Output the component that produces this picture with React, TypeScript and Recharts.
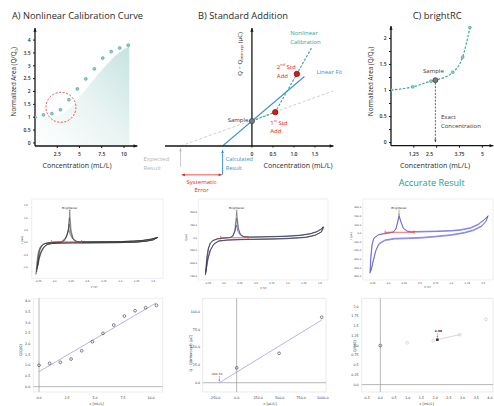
import React from 'react';
import {
  ComposedChart,
  Line,
  Area,
  XAxis,
  YAxis,
  ReferenceLine,
  ReferenceDot,
  ReferenceArea,
} from 'recharts';

const W = 494;
const H = 406;
const SANS = '"Open Sans", "Noto Sans", sans-serif';
const MPL = '"DejaVu Sans", sans-serif';
const INK = '#151515';
const TEAL = '#37a197';
const BLUE = '#3590d6';
const RED = '#e3241b';

// calibration standards (A and bottom-left fit)
const calibConc = [0, 0.95, 1.9, 2.86, 3.81, 4.76, 5.71, 6.67, 7.62, 8.57, 9.52, 10.48];
const calibArea = [1.0, 1.09, 1.14, 1.29, 1.68, 2.1, 2.49, 2.88, 3.3, 3.55, 3.69, 3.8];
const shadeConc = [0, 1, 2, 3, 4, 5, 6, 7, 8, 9, 10, 10.6];
const shadeArea = [1.0, 1.0, 1.03, 1.12, 1.38, 1.78, 2.2, 2.62, 3.02, 3.38, 3.64, 3.75];
const calibTicksX = [2.5, 5, 7.5, 10];
const calibTicksY = [0, 0.5, 1, 1.5, 2, 2.5, 3, 3.5, 4];

// standard addition sketch (B)
const addConc = [0, 0.555, 1.07];
const addSignal = [0.95, 1.29, 2.75];
const nonlinConc = [0, 0.555, 1.07, 1.43];
const nonlinSignal = [0.95, 1.29, 2.75, 3.77];
const linFitConc = [-0.7, 1.25];
const linFitSignal = [0, 2.65];
const trueConc = [-1.7, 1.94];
const trueSignal = [0, 2.1];
const expectedResult = -1.7;
const calculatedResult = -0.7;
const addTicksX = [0, 0.5, 1, 1.5];

// brightRC sketch (C)
const rcConc = [0, 1.19, 2.19, 3.38, 3.92, 4.32];
const rcArea = [1.01, 1.07, 1.18, 1.35, 1.64, 2.21];
const rcSampleConc = 2.43;
const rcSampleArea = 1.2;
const rcTicksX = [1.25, 2.5, 3.75, 5];
const rcTicksY = [0, 0.25, 0.5, 0.75, 1, 1.25, 1.5, 1.75, 2];

// CV, left (mA): several cycles
const dHead1 = [[-0.285, -1.3], [-0.27, -0.75], [-0.25, -0.4], [-0.22, -0.18], [-0.17, -0.07], [-0.1, -0.025], [0, -0.005], [0.1, 0.01]];
const dHead2 = [[-0.275, -1.2], [-0.26, -0.68], [-0.24, -0.36], [-0.21, -0.16], [-0.16, -0.06], [-0.1, -0.02], [0, 0], [0.1, 0.01]];
const dHead3 = [[-0.265, -1.08], [-0.25, -0.6], [-0.23, -0.32], [-0.2, -0.14], [-0.15, -0.05], [-0.08, -0.015], [0, 0], [0.1, 0.01]];
const dHead4 = [[-0.255, -0.95], [-0.24, -0.52], [-0.22, -0.28], [-0.19, -0.12], [-0.14, -0.04], [-0.07, -0.01], [0, 0], [0.1, 0.01]];
const dPeak1 = [[0.14, 0.05], [0.18, 0.2], [0.21, 0.55], [0.23, 1.25], [0.25, 0.5], [0.28, 0.16], [0.32, 0.05], [0.36, 0.02]];
const dPeak2 = [[0.14, 0.05], [0.18, 0.22], [0.21, 0.5], [0.225, 1.0], [0.245, 0.45], [0.28, 0.15], [0.32, 0.05], [0.36, 0.02]];
const dPeak3 = [[0.13, 0.06], [0.17, 0.2], [0.2, 0.42], [0.22, 0.75], [0.24, 0.4], [0.27, 0.18], [0.31, 0.06], [0.36, 0.02]];
const dPeak4 = [[0.12, 0.06], [0.16, 0.17], [0.19, 0.32], [0.215, 0.5], [0.235, 0.32], [0.27, 0.15], [0.31, 0.05], [0.36, 0.02]];
const dPlateau = [[0.5, 0.02], [0.75, 0.025], [1.0, 0.03], [1.2, 0.05], [1.35, 0.08], [1.47, 0.13], [1.57, 0.2], [1.5, 0.1], [1.4, 0.05], [1.25, 0.01], [1.0, -0.01], [0.75, -0.015], [0.5, -0.02], [0.25, -0.02], [0.05, -0.03], [-0.05, -0.05]];
const dTail1 = [[-0.12, -0.1], [-0.18, -0.22], [-0.23, -0.5], [-0.26, -0.85], [-0.285, -1.3]];
const dTail2 = [[-0.12, -0.09], [-0.17, -0.2], [-0.22, -0.46], [-0.25, -0.78], [-0.275, -1.2]];
const dTail3 = [[-0.11, -0.08], [-0.16, -0.18], [-0.21, -0.42], [-0.24, -0.7], [-0.265, -1.08]];
const dTail4 = [[-0.1, -0.07], [-0.15, -0.16], [-0.2, -0.38], [-0.23, -0.62], [-0.255, -0.95]];
const dBase = [[-0.05, 0.02], [0.41, 0.02]];
const dPeakAt = [0.23, 1.25];
const cvTicksV = [-0.25, 0, 0.25, 0.5, 0.75, 1, 1.25, 1.5];
const dTicksI = [-1, -0.5, 0, 0.5, 1, 1.5];

// CV, middle (uA)
const eHead1 = [[-0.29, -730], [-0.28, -560], [-0.27, -400], [-0.25, -230], [-0.22, -120], [-0.18, -60], [-0.1, -25], [0, -8], [0.1, 5]];
const eHead2 = [[-0.285, -700], [-0.275, -540], [-0.262, -380], [-0.243, -215], [-0.213, -110], [-0.17, -55], [-0.1, -22], [0, -6], [0.1, 5]];
const eHeadBlue = [[-0.28, -660], [-0.27, -500], [-0.257, -350], [-0.238, -200], [-0.208, -100], [-0.165, -50], [-0.1, -20], [0, -5], [0.1, 4]];
const ePeak1 = [[0.14, 40], [0.17, 150], [0.2, 500], [0.225, 200], [0.25, 80], [0.3, 25], [0.4, 12]];
const ePeak2 = [[0.14, 35], [0.175, 140], [0.2, 380], [0.225, 170], [0.26, 60], [0.31, 20], [0.4, 12]];
const ePeakBlue = [[0.14, 30], [0.17, 110], [0.195, 250], [0.22, 120], [0.26, 45], [0.32, 15], [0.4, 10]];
const ePlateau1 = [[0.6, 15], [0.8, 20], [1.0, 28], [1.2, 45], [1.35, 75], [1.45, 115], [1.52, 165], [1.55, 215], [1.52, 110], [1.42, 45], [1.28, 5], [1.0, -18], [0.75, -28], [0.5, -33], [0.25, -38], [0.05, -48]];
const ePlateau2 = [[0.6, 20], [0.8, 26], [1.0, 34], [1.2, 52], [1.35, 82], [1.45, 122], [1.52, 172], [1.56, 205], [1.53, 118], [1.43, 52], [1.28, 12], [1.0, -10], [0.75, -20], [0.5, -26], [0.25, -32], [0.05, -42]];
const eTail1 = [[-0.08, -70], [-0.16, -130], [-0.22, -260], [-0.26, -450], [-0.29, -730]];
const eTail2 = [[-0.08, -65], [-0.155, -122], [-0.213, -245], [-0.252, -420], [-0.285, -700]];
const eTailBlue = [[-0.08, -60], [-0.15, -115], [-0.205, -230], [-0.245, -400], [-0.28, -660]];
const eBase = [[-0.05, 0], [0.38, 0]];
const ePeakAt = [0.2, 500];
const eTicksI = [-750, -500, -250, 0, 250, 500];

// CV, right (uA)
const fLoop1 = [[-0.29, -462], [-0.28, -290], [-0.26, -135], [-0.23, -58], [-0.16, -20], [-0.08, -8], [0, 0], [0.08, 12], [0.12, 50], [0.15, 140], [0.17, 210], [0.2, 135], [0.24, 55], [0.3, 22], [0.36, 14], [0.5, 15], [0.75, 20], [1.0, 26], [1.15, 36], [1.3, 58], [1.42, 98], [1.52, 155], [1.58, 205], [1.55, 145], [1.48, 88], [1.35, 40], [1.2, 10], [1.0, -15], [0.75, -33], [0.5, -48], [0.3, -53], [0.1, -58], [-0.05, -75], [-0.15, -120], [-0.2, -200], [-0.24, -320], [-0.27, -420], [-0.29, -462]];
const fLoop2 = [[-0.285, -440], [-0.274, -280], [-0.254, -128], [-0.224, -52], [-0.155, -14], [-0.08, -2], [0, 6], [0.08, 18], [0.12, 52], [0.15, 130], [0.172, 195], [0.2, 128], [0.24, 58], [0.3, 28], [0.36, 20], [0.5, 22], [0.75, 27], [1.0, 33], [1.15, 44], [1.3, 66], [1.42, 106], [1.52, 160], [1.575, 198], [1.545, 138], [1.48, 80], [1.35, 32], [1.2, 2], [1.0, -24], [0.75, -42], [0.5, -57], [0.3, -62], [0.1, -67], [-0.05, -84], [-0.15, -130], [-0.2, -210], [-0.24, -330], [-0.27, -425], [-0.285, -440]];
const fBase = [[-0.05, 12], [0.41, 12]];
const fPeakAt = [0.17, 210];
const fTicksI = [-500, -400, -300, -200, -100, 0, 100, 200, 300];

// fits, bottom row
const fitGConc = [0, 10.48];
const fitGArea = [0.7, 3.92];
const fitGTicksX = [0, 2.5, 5, 7.5, 10];
const fitGTicksY = [0, 0.5, 1, 1.5, 2, 2.5, 3, 3.5, 4];
const saConc = [0, 492, 988];
const saCharge = [21, 41.5, 92.5];
const saFitConc = [-201.34, 988];
const saFitCharge = [0, 88.5];
const saIntercept = -201.34;
const saTicksX = [-250, 0, 250, 500, 750, 1000];
const saTicksY = [0, 25, 50, 75, 100];
const rcFitConc = [0.98, 1.93, 2.9, 3.85];
const rcFitArea = [1.07, 1.12, 1.28, 1.67];
const rcBlankConc = [0];
const rcBlankArea = [1.0];
const rcFoundConc = 2.08;
const rcFoundArea = 1.15;
const rcLinkConc = [2.08, 2.9];
const rcLinkArea = [1.15, 1.28];
const rcFitTicksX = [-0.5, 0, 0.5, 1, 1.5, 2, 2.5, 3, 3.5, 4];
const rcFitTicksY = [0, 0.25, 0.5, 0.75, 1, 1.25, 1.5, 1.75, 2];

const pts = (xs: number[], ys: number[]) => xs.map((x, i) => ({ x, y: ys[i] }));
const pairs = (a: number[][]) => a.map(([x, y]) => ({ x, y }));
const fmt1 = (v: number) => v.toFixed(1);
const fmtQuarter = (v: number) => (Number.isInteger(v * 2) ? v.toFixed(1) : v.toFixed(2));

// plot rectangle in page pixels -> chart margin for a full-page chart
const frame = (left: number, top: number, right: number, bottom: number, yw = 0, xh = 0) => ({
  top,
  left: left - yw,
  right: W - right,
  bottom: H - bottom - xh,
});

function Layer({ children }: { children: React.ReactNode }) {
  return <div style={{ position: 'absolute', left: 0, top: 0 }}>{children}</div>;
}

function head(x: number, y: number, ang: number, size: number, color: string, key?: string) {
  const l = size * 1.7;
  const w = size * 0.75;
  const bx = x - l * Math.cos(ang);
  const by = y - l * Math.sin(ang);
  const px = -Math.sin(ang) * w;
  const py = Math.cos(ang) * w;
  return <path key={key} d={`M${x},${y}L${bx + px},${by + py}L${bx - px},${by - py}Z`} fill={color} />;
}

const tip = (ang: number, size = 2.2, color = INK) => (p: any) => head(p.cx, p.cy, ang, size, color);

const arrowLine = (color: string, width = 0.9, both = false, dash?: string, size = 1.8) => (p: any) => {
  const { x1, y1, x2, y2 } = p;
  const ang = Math.atan2(y2 - y1, x2 - x1);
  return (
    <g>
      <line x1={x1} y1={y1} x2={x2} y2={y2} stroke={color} strokeWidth={width} strokeDasharray={dash} />
      {head(x2, y2, ang, size, color, 'e')}
      {both ? head(x1, y1, ang + Math.PI, size, color, 's') : null}
    </g>
  );
};

type NoteLine = { t: React.ReactNode; dx: number; dy: number };
const note = (lines: NoteLine[], color: string, size = 6, anchor = 'start', weight = 400, family = SANS) => (p: any) => (
  <g>
    {lines.map((l, i) => (
      <text key={i} x={p.cx + l.dx} y={p.cy + l.dy} fill={color} fontSize={size} textAnchor={anchor as any} fontWeight={weight} fontFamily={family}>
        {l.t}
      </text>
    ))}
  </g>
);

const topTick = { fontSize: 5, fill: '#222', fontFamily: SANS, fontWeight: 600 };
const cvTick = { fontSize: 2.4, fill: '#333', fontFamily: MPL };
const fitTick = { fontSize: 3.3, fill: '#333', fontFamily: MPL };
const tealDot = { r: 1.45, fill: '#8fd1c8', stroke: '#3a9a90', strokeWidth: 0.6 };

function PanelA() {
  return (
    <Layer>
      <ComposedChart width={W} height={H} margin={frame(35, 28, 137.3, 146, 10, 10)}>
        <defs>
          <linearGradient id="shadeA" x1="0" y1="1" x2="1" y2="0">
            <stop offset="0%" stopColor="#ffffff" />
            <stop offset="50%" stopColor="#e9f4f3" />
            <stop offset="100%" stopColor="#c6e4e0" />
          </linearGradient>
        </defs>
        <XAxis type="number" dataKey="x" domain={[0, 11.5]} allowDataOverflow ticks={calibTicksX} interval={0}
          tickFormatter={(v: number) => String(v)} height={10} tickSize={2} tickMargin={4.5}
          axisLine={{ stroke: INK, strokeWidth: 1.3 }} tickLine={{ stroke: INK }} tick={topTick} />
        <YAxis type="number" domain={[-0.12, 4.47]} allowDataOverflow ticks={calibTicksY} interval={0}
          tickFormatter={(v: number) => String(v)} width={10} tickSize={2} tickMargin={2.5}
          axisLine={{ stroke: INK, strokeWidth: 1.3 }} tickLine={{ stroke: INK }} tick={topTick} />
        <Area data={pts(shadeConc, shadeArea)} dataKey="y" type="monotone" fill="url(#shadeA)" fillOpacity={1}
          stroke="none" baseValue={-0.12} isAnimationActive={false} />
        <Line data={pts(calibConc, calibArea)} dataKey="y" stroke="none" dot={tealDot} activeDot={false} isAnimationActive={false} />
        <ReferenceDot x={2.92} y={1.385} r={15} fill="none" stroke="#e2392f" strokeWidth={0.9} strokeDasharray="2 1.6" ifOverflow="visible" />
        <ReferenceDot x={0} y={4.47} shape={tip(-Math.PI / 2)} ifOverflow="visible" />
        <ReferenceDot x={11.5} y={-0.12} shape={tip(0)} ifOverflow="visible" />
      </ComposedChart>
    </Layer>
  );
}

function PanelB() {
  const sample = pts(addConc.slice(0, 1), addSignal.slice(0, 1));
  const adds = pts(addConc.slice(1), addSignal.slice(1));
  const sup = (s: string) => <tspan fontSize={3.8} dy={-2.2}>{s}</tspan>;
  return (
    <Layer>
      <ComposedChart width={W} height={H} margin={frame(165, 28, 333.4, 146, 0, 10)}>
        <XAxis type="number" dataKey="x" domain={[-2.07, 1.94]} allowDataOverflow ticks={addTicksX} interval={0}
          tickFormatter={(v: number) => (v === 0 ? '0' : v.toFixed(1))} height={10} tickSize={1.5} tickMargin={4.5}
          axisLine={{ stroke: INK, strokeWidth: 1.3 }} tickLine={{ stroke: INK }} tick={topTick} />
        <YAxis type="number" domain={[0, 4.5]} allowDataOverflow hide />
        <ReferenceLine x={0} stroke={INK} strokeWidth={1.3} ifOverflow="visible" />
        <Line data={pts(trueConc, trueSignal)} dataKey="y" stroke="#c9c9c9" strokeWidth={0.9} strokeDasharray="3 2"
          dot={false} activeDot={false} isAnimationActive={false} />
        <Line data={pts(linFitConc, linFitSignal)} dataKey="y" stroke={BLUE} strokeWidth={1.1}
          dot={false} activeDot={false} isAnimationActive={false} />
        <Line data={pts(nonlinConc, nonlinSignal)} dataKey="y" stroke={TEAL} strokeWidth={1.1} strokeDasharray="2.5 1.5"
          dot={false} activeDot={false} isAnimationActive={false} />
        <Line data={sample} dataKey="y" stroke="none" dot={{ r: 2.6, fill: '#7a7a7a', stroke: '#3c3c3c', strokeWidth: 0.7 }}
          activeDot={false} isAnimationActive={false} />
        <Line data={adds} dataKey="y" stroke="none" dot={{ r: 2.7, fill: '#e2170f', stroke: '#6e0a06', strokeWidth: 0.7 }}
          activeDot={false} isAnimationActive={false} />
        <ReferenceDot x={0} y={4.5} shape={tip(-Math.PI / 2)} ifOverflow="visible" />
        <ReferenceDot x={1.94} y={0} shape={tip(0)} ifOverflow="visible" />
        <ReferenceLine segment={[{ x: expectedResult, y: -0.8 }, { x: expectedResult, y: -0.08 }]}
          shape={arrowLine('#bdbdbd', 0.8)} ifOverflow="visible" />
        <ReferenceLine segment={[{ x: calculatedResult, y: -1.1 }, { x: calculatedResult, y: -0.15 }]}
          shape={arrowLine(BLUE, 0.9)} ifOverflow="visible" />
        <ReferenceLine segment={[{ x: expectedResult + 0.03, y: -1.1 }, { x: calculatedResult - 0.02, y: -1.1 }]}
          shape={arrowLine(RED, 0.8, true)} ifOverflow="visible" />
        <ReferenceDot x={addConc[0]} y={addSignal[0]} ifOverflow="visible"
          shape={note([{ t: 'Sample', dx: -3.5, dy: 1.1 }], '#333', 6, 'end')} />
        <ReferenceDot x={addConc[1]} y={addSignal[1]} ifOverflow="visible"
          shape={note([{ t: <>1{sup('st')}<tspan dy={2.2}> Std</tspan></>, dx: -5, dy: 12.5 }, { t: 'Add', dx: -5, dy: 20.8 }], RED)} />
        <ReferenceDot x={addConc[2]} y={addSignal[2]} ifOverflow="visible"
          shape={note([{ t: <>2{sup('nd')}<tspan dy={2.2}> Std</tspan></>, dx: -20, dy: -5.2 }, { t: 'Add', dx: -20, dy: 4.1 }], RED)} />
        <ReferenceDot x={linFitConc[1]} y={linFitSignal[1]} ifOverflow="visible"
          shape={note([{ t: 'Linear Fit', dx: 12, dy: -2.2 }], BLUE)} />
        <ReferenceDot x={nonlinConc[3]} y={nonlinSignal[3]} ifOverflow="visible"
          shape={note([{ t: 'Nonlinear', dx: -21.8, dy: -11.8 }, { t: 'Calibration', dx: -21.8, dy: -2.8 }], TEAL)} />
        <ReferenceDot x={expectedResult} y={0} ifOverflow="visible"
          shape={note([{ t: 'Expected', dx: -37, dy: 15.1 }, { t: 'Result', dx: -37, dy: 23.6 }], '#b3b3b3')} />
        <ReferenceDot x={calculatedResult} y={0} ifOverflow="visible"
          shape={note([{ t: 'Calculated', dx: 3.2, dy: 15.3 }, { t: 'Result', dx: 3.2, dy: 23.6 }], BLUE, 5.6)} />
        <ReferenceDot x={(expectedResult + calculatedResult) / 2} y={0} ifOverflow="visible"
          shape={note([{ t: 'Systematic', dx: 0, dy: 37.8 }, { t: 'Error', dx: 0, dy: 45.6 }], RED, 6, 'middle')} />
      </ComposedChart>
    </Layer>
  );
}

const rcTick = (p: any) => {
  const v = p.payload.value;
  return (
    <text x={p.x + (v === 2.5 ? -7 : 0)} y={p.y} dy="0.71em" textAnchor="middle" {...topTick}>
      {String(v)}
    </text>
  );
};

function PanelC() {
  const curve = [...pts(rcConc, rcArea), { x: rcSampleConc, y: rcSampleArea }].sort((a, b) => a.x - b.x);
  return (
    <Layer>
      <ComposedChart width={W} height={H} margin={frame(391, 26, 493.3, 145.7, 10, 10)}>
        <XAxis type="number" dataKey="x" domain={[0, 5.6]} allowDataOverflow ticks={rcTicksX} interval={0}
          height={10} tickSize={2} tickMargin={4.5} axisLine={{ stroke: INK, strokeWidth: 1.3 }}
          tickLine={{ stroke: INK }} tick={rcTick} />
        <YAxis type="number" domain={[-0.06, 2.24]} allowDataOverflow ticks={rcTicksY} interval={0}
          tickFormatter={(v: number) => (Number.isInteger(v * 2) ? String(v) : '')} width={10} tickSize={2} tickMargin={2.5}
          axisLine={{ stroke: INK, strokeWidth: 1.3 }} tickLine={{ stroke: INK }} tick={topTick} />
        <Line data={curve} dataKey="y" type="monotone" stroke={TEAL} strokeWidth={1.1} strokeDasharray="2.5 1.5"
          dot={false} activeDot={false} isAnimationActive={false} />
        <Line data={pts(rcConc, rcArea)} dataKey="y" stroke="none" dot={tealDot} activeDot={false} isAnimationActive={false} />
        <ReferenceLine segment={[{ x: rcSampleConc, y: rcSampleArea - 0.05 }, { x: rcSampleConc, y: 0.01 }]}
          shape={arrowLine('#222', 0.7, false, '2 1.4', 1.5)} ifOverflow="visible" />
        <Line data={[{ x: rcSampleConc, y: rcSampleArea }]} dataKey="y" stroke="none"
          dot={{ r: 2.5, fill: '#7d7d7d', stroke: '#333', strokeWidth: 0.7 }} activeDot={false} isAnimationActive={false} />
        <ReferenceDot x={rcSampleConc} y={rcSampleArea} ifOverflow="visible"
          shape={note([{ t: 'Sample', dx: -2, dy: -6.9 }], '#333', 6, 'middle')} />
        <ReferenceDot x={rcSampleConc} y={0} ifOverflow="visible"
          shape={note([{ t: 'Exact', dx: 5.6, dy: -23.1 }, { t: 'Concentration', dx: 5.6, dy: -14.8 }], '#333')} />
        <ReferenceDot x={0} y={2.24} shape={tip(-Math.PI / 2)} ifOverflow="visible" />
        <ReferenceDot x={5.6} y={-0.06} shape={tip(0)} ifOverflow="visible" />
      </ComposedChart>
    </Layer>
  );
}

const capDot = (p: any) => (
  <line key={p.index} x1={p.cx} x2={p.cx} y1={p.cy - 1.8} y2={p.cy + 1.8} stroke="#e8473f" strokeWidth={0.7} />
);

const brightener = (gap: number) => (p: any) => {
  const top = p.cy - 2.2 - gap;
  return (
    <g>
      <text x={p.cx} y={top - 0.6} textAnchor="middle" fontSize={2.9} fontFamily={MPL} fill="#222">Brightener</text>
      <line x1={p.cx} y1={top} x2={p.cx} y2={p.cy - 0.4} stroke="#222" strokeWidth={0.35} />
      <path d={`M${p.cx - 0.8},${p.cy - 1.6}L${p.cx},${p.cy - 0.4}L${p.cx + 0.8},${p.cy - 1.6}`} fill="none" stroke="#222" strokeWidth={0.35} />
    </g>
  );
};

type Loop = { pts: { x: number; y: number }[]; color: string; width: number };

function CvPanel(props: {
  box: number[]; xDomain: number[]; yDomain: number[]; yTicks: number[]; loops: Loop[];
  base: number[][]; peakAt: number[]; gap: number; xMargin: number; yMargin: number;
}) {
  const { box, xDomain, yDomain, yTicks, loops, base, peakAt, gap, xMargin, yMargin } = props;
  return (
    <Layer>
      <ComposedChart width={W} height={H} margin={frame(box[0], box[1], box[2], box[3], 6, 6)}>
        <XAxis type="number" dataKey="x" domain={xDomain} allowDataOverflow ticks={cvTicksV} interval={0}
          tickFormatter={fmtQuarter} height={6} tickSize={0} tickMargin={xMargin} axisLine={false} tickLine={false} tick={cvTick} />
        <YAxis type="number" domain={yDomain} allowDataOverflow ticks={yTicks} interval={0} tickFormatter={fmt1}
          width={6} tickSize={0} tickMargin={yMargin} axisLine={false} tickLine={false} tick={cvTick} />
        <ReferenceArea x1={xDomain[0]} x2={xDomain[1]} y1={yDomain[0]} y2={yDomain[1]} fill="none"
          stroke="#e3e3e3" strokeWidth={0.6} ifOverflow="visible" />
        {loops.map((lp, i) => (
          <Line key={i} data={lp.pts} dataKey="y" type="linear" stroke={lp.color} strokeWidth={lp.width}
            dot={false} activeDot={false} isAnimationActive={false} />
        ))}
        <Line data={pairs(base)} dataKey="y" stroke="#e8473f" strokeWidth={0.8} dot={capDot} activeDot={false} isAnimationActive={false} />
        <ReferenceDot x={peakAt[0]} y={peakAt[1]} shape={brightener(gap)} ifOverflow="visible" />
      </ComposedChart>
    </Layer>
  );
}

const openDot = (stroke: string) => ({ r: 1.4, fill: 'none', stroke, strokeWidth: 0.55 });

function PanelG() {
  const xd = [-0.51, 11.04];
  const yd = [-0.25, 4.13];
  return (
    <Layer>
      <ComposedChart width={W} height={H} margin={frame(33.3, 298.3, 162.7, 392, 6, 6)}>
        <XAxis type="number" dataKey="x" domain={xd} allowDataOverflow ticks={fitGTicksX} interval={0} tickFormatter={fmt1}
          height={6} tickSize={0} tickMargin={4.5} axisLine={false} tickLine={false} tick={fitTick} />
        <YAxis type="number" domain={yd} allowDataOverflow ticks={fitGTicksY} interval={0} tickFormatter={fmt1}
          width={6} tickSize={0} tickMargin={3} axisLine={false} tickLine={false} tick={fitTick} />
        <ReferenceArea x1={xd[0]} x2={xd[1]} y1={yd[0]} y2={yd[1]} fill="none" stroke="#e0e0e0" strokeWidth={0.6} ifOverflow="visible" />
        <ReferenceLine x={0} stroke="#cfcfcf" strokeWidth={1.5} />
        <ReferenceLine y={0} stroke="#9c9c9c" strokeWidth={0.7} />
        <Line data={pts(fitGConc, fitGArea)} dataKey="y" stroke="#9292f0" strokeWidth={0.7} dot={false} activeDot={false} isAnimationActive={false} />
        <Line data={pts(calibConc, calibArea)} dataKey="y" stroke="none" dot={openDot('#222')} activeDot={false} isAnimationActive={false} />
      </ComposedChart>
    </Layer>
  );
}

function PanelH() {
  const xd = [-395, 1038];
  const yd = [-13.1, 119.2];
  return (
    <Layer>
      <ComposedChart width={W} height={H} margin={frame(202.7, 298.3, 326, 392, 6, 6)}>
        <XAxis type="number" dataKey="x" domain={xd} allowDataOverflow ticks={saTicksX} interval={0} tickFormatter={fmt1}
          height={6} tickSize={0} tickMargin={4.5} axisLine={false} tickLine={false} tick={fitTick} />
        <YAxis type="number" domain={yd} allowDataOverflow ticks={saTicksY} interval={0} tickFormatter={fmt1}
          width={6} tickSize={0} tickMargin={2.5} axisLine={false} tickLine={false} tick={fitTick} />
        <ReferenceArea x1={xd[0]} x2={xd[1]} y1={yd[0]} y2={yd[1]} fill="none" stroke="#dcdcdc" strokeWidth={0.6} ifOverflow="visible" />
        <ReferenceLine x={0} stroke="#9a9a9a" strokeWidth={0.7} />
        <ReferenceLine y={0} stroke="#9a9a9a" strokeWidth={0.7} />
        <Line data={pts(saFitConc, saFitCharge)} dataKey="y" stroke="#9292f0" strokeWidth={0.7} dot={false} activeDot={false} isAnimationActive={false} />
        <Line data={pts(saConc, saCharge)} dataKey="y" stroke="none" dot={openDot('#222')} activeDot={false} isAnimationActive={false} />
        <ReferenceLine segment={[{ x: saIntercept, y: 9.5 }, { x: saIntercept, y: 2 }]} shape={arrowLine('#e8473f', 0.5, false, undefined, 1.1)} ifOverflow="visible" />
        <ReferenceDot x={saIntercept} y={0} ifOverflow="visible"
          shape={note([{ t: String(saIntercept), dx: -2.7, dy: -7.6 }], '#222', 2.9, 'middle', 400, MPL)} />
      </ComposedChart>
    </Layer>
  );
}

function PanelI() {
  const xd = [-0.68, 4.11];
  const yd = [-0.19, 2.21];
  const square = (p: any) => <rect key={p.index} x={p.cx - 1.3} y={p.cy - 1.3} width={2.6} height={2.6} fill="#333" />;
  return (
    <Layer>
      <ComposedChart width={W} height={H} margin={frame(361.7, 298.3, 493, 392, 6, 6)}>
        <XAxis type="number" dataKey="x" domain={xd} allowDataOverflow ticks={rcFitTicksX} interval={0} tickFormatter={fmt1}
          height={6} tickSize={0} tickMargin={4.5} axisLine={false} tickLine={false} tick={fitTick} />
        <YAxis type="number" domain={yd} allowDataOverflow ticks={rcFitTicksY} interval={0} tickFormatter={fmtQuarter}
          width={6} tickSize={0} tickMargin={3} axisLine={false} tickLine={false} tick={fitTick} />
        <ReferenceArea x1={xd[0]} x2={xd[1]} y1={yd[0]} y2={yd[1]} fill="none" stroke="#dcdcdc" strokeWidth={0.6} ifOverflow="visible" />
        <ReferenceLine x={0} stroke="#9a9a9a" strokeWidth={0.7} />
        <ReferenceLine y={0} stroke="#9a9a9a" strokeWidth={0.7} />
        <Line data={pts(rcLinkConc, rcLinkArea)} dataKey="y" stroke="#c4c4c4" strokeWidth={0.7} dot={false} activeDot={false} isAnimationActive={false} />
        <Line data={pts(rcFitConc, rcFitArea)} dataKey="y" stroke="none" dot={openDot('#bdbdbd')} activeDot={false} isAnimationActive={false} />
        <Line data={pts(rcBlankConc, rcBlankArea)} dataKey="y" stroke="none" dot={openDot('#222')} activeDot={false} isAnimationActive={false} />
        <Line data={[{ x: rcFoundConc, y: rcFoundArea }]} dataKey="y" stroke="none" dot={square} activeDot={false} isAnimationActive={false} />
        <ReferenceDot x={rcFoundConc} y={rcFoundArea} ifOverflow="visible"
          shape={(p: any) => (
            <g>
              {head(p.cx, p.cy - 1.6, Math.PI / 2, 1.1, '#e8473f')}
              <line x1={p.cx} x2={p.cx} y1={p.cy - 6.5} y2={p.cy - 3} stroke="#e8473f" strokeWidth={0.5} />
              <text x={p.cx + 1} y={p.cy - 7.3} textAnchor="middle" fontSize={2.9} fontWeight={700} fontFamily={MPL} fill="#222">
                {rcFoundConc.toFixed(2)}
              </text>
            </g>
          )} />
      </ComposedChart>
    </Layer>
  );
}

function Captions() {
  const t = { fontFamily: SANS, fill: '#2a2a2a' };
  const m = { fontFamily: MPL, fill: '#333' };
  return (
    <svg width={W} height={H} style={{ position: 'absolute', left: 0, top: 0 }}>
      <text x={12} y={19.2} fontSize={9} textLength={131} lengthAdjust="spacingAndGlyphs" {...t}>A) Nonlinear Calibration Curve</text>
      <text x={198} y={19.2} fontSize={9} textLength={90} lengthAdjust="spacingAndGlyphs" {...t}>B) Standard Addition</text>
      <text x={412.7} y={19.2} fontSize={9} textLength={49} lengthAdjust="spacingAndGlyphs" {...t}>C) brightRC</text>

      <text transform="translate(16.2,81.7) rotate(-90)" textAnchor="middle" fontSize={6.3} {...t}>
        Normalized Area (Q/Q<tspan fontSize={4.2} dy={1.3}>0</tspan><tspan dy={-1.3}>)</tspan>
      </text>
      <text x={77} y={168.3} textAnchor="middle" fontSize={6.3} textLength={69} lengthAdjust="spacingAndGlyphs" {...t}>Concentration (mL/L)</text>

      <text transform="translate(242,54) rotate(-90)" textAnchor="middle" fontSize={6} {...t}>
        Q − Q<tspan fontSize={3.6} dy={1.3}>intercept</tspan><tspan dy={-1.3}> (µC)</tspan>
      </text>
      <text x={298} y={168.3} textAnchor="middle" fontSize={6.3} textLength={69} lengthAdjust="spacingAndGlyphs" {...t}>Concentration (mL/L)</text>

      <text transform="translate(373,81.5) rotate(-90)" textAnchor="middle" fontSize={6.3} {...t}>
        Normalized Area (Q/Q<tspan fontSize={4.2} dy={1.3}>0</tspan><tspan dy={-1.3}>)</tspan>
      </text>
      <text x={435} y={168.3} textAnchor="middle" fontSize={6.3} textLength={70} lengthAdjust="spacingAndGlyphs" {...t}>Concentration (mL/L)</text>
      <text x={431.7} y={186} textAnchor="middle" fontSize={9.3} textLength={66} lengthAdjust="spacingAndGlyphs" fontFamily={SANS} fill="#22a094">Accurate Result</text>

      <text x={94} y={288.3} textAnchor="middle" fontSize={2.6} {...m}>V [V]</text>
      <text transform="translate(22.8,240) rotate(-90)" textAnchor="middle" fontSize={2.6} {...m}>I [mA]</text>
      <text x={263.3} y={288.6} textAnchor="middle" fontSize={2.6} {...m}>V [V]</text>
      <text transform="translate(187.3,237.7) rotate(-90)" textAnchor="middle" fontSize={2.6} {...m}>I [µA]</text>
      <text x={427.3} y={288.3} textAnchor="middle" fontSize={2.6} {...m}>V [V]</text>
      <text transform="translate(352.3,236) rotate(-90)" textAnchor="middle" fontSize={2.6} {...m}>I [µA]</text>

      <text x={96.7} y={404.5} textAnchor="middle" fontSize={3.5} {...m}>c [mL/L]</text>
      <text transform="translate(22,350) rotate(-90)" textAnchor="middle" fontSize={3.6} {...m}>Q/Q(0)</text>
      <text x={270} y={404.5} textAnchor="middle" fontSize={3.5} {...m}>c [µL/L]</text>
      <text transform="translate(192.3,353) rotate(-90)" textAnchor="middle" fontSize={3.6} {...m}>Q - Q(intercept) [µC]</text>
      <text x={426.7} y={404.5} textAnchor="middle" fontSize={3.5} {...m}>c [mL/L]</text>
      <text transform="translate(356.3,346) rotate(-90)" textAnchor="middle" fontSize={3.6} {...m}>Q/Q(0)</text>
    </svg>
  );
}

export default function App() {
  const dLoops: Loop[] = [
    { pts: pairs([...dHead4, ...dPeak4, ...dPlateau, ...dTail4]), color: '#2a2a2a', width: 0.45 },
    { pts: pairs([...dHead3, ...dPeak3, ...dPlateau, ...dTail3]), color: '#2a2a2a', width: 0.45 },
    { pts: pairs([...dHead2, ...dPeak2, ...dPlateau, ...dTail2]), color: '#2a2a2a', width: 0.45 },
    { pts: pairs([...dHead1, ...dPeak1, ...dPlateau, ...dTail1]), color: '#2a2a2a', width: 0.45 },
  ];
  const eLoops: Loop[] = [
    { pts: pairs([...eHeadBlue, ...ePeakBlue, ...ePlateau1, ...eTailBlue]), color: '#3b3bd0', width: 0.6 },
    { pts: pairs([...eHead2, ...ePeak2, ...ePlateau2, ...eTail2]), color: '#333', width: 0.5 },
    { pts: pairs([...eHead1, ...ePeak1, ...ePlateau1, ...eTail1]), color: '#333', width: 0.5 },
  ];
  const fLoops: Loop[] = [
    { pts: pairs(fLoop2), color: '#5252d6', width: 0.6 },
    { pts: pairs(fLoop1), color: '#4343cf', width: 0.6 },
  ];
  return (
    <div style={{ position: 'absolute', left: 0, top: 0, width: W, height: H, background: '#fff', overflow: 'hidden' }}>
      <PanelA />
      <PanelB />
      <PanelC />
      <CvPanel box={[31.7, 199, 163, 278.3]} xDomain={[-0.35, 1.65]} yDomain={[-1.46, 1.76]} yTicks={dTicksI}
        loops={dLoops} base={dBase} peakAt={dPeakAt} gap={0} xMargin={1.8} yMargin={4} />
      <CvPanel box={[198.3, 199, 328, 280]} xDomain={[-0.4, 1.625]} yDomain={[-826, 756]} yTicks={eTicksI}
        loops={eLoops} base={eBase} peakAt={ePeakAt} gap={0.5} xMargin={2.4} yMargin={1.2} />
      <CvPanel box={[362.7, 199, 493, 280]} xDomain={[-0.405, 1.657]} yDomain={[-540, 397]} yTicks={fTicksI}
        loops={fLoops} base={fBase} peakAt={fPeakAt} gap={3.5} xMargin={2.4} yMargin={1.5} />
      <PanelG />
      <PanelH />
      <PanelI />
      <Captions />
    </div>
  );
}
